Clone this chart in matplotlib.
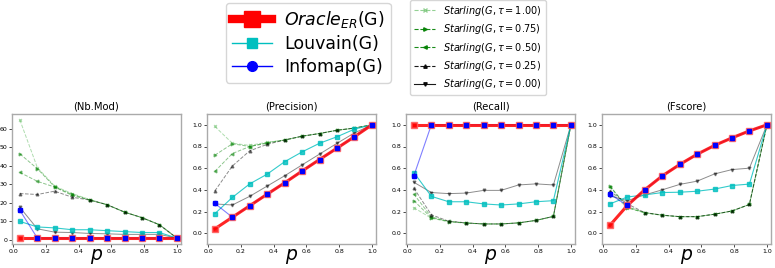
import numpy as np
import matplotlib
matplotlib.use("Agg")
import matplotlib.pyplot as plt
from matplotlib.lines import Line2D

p = [0.04, 0.147, 0.253, 0.36, 0.467, 0.573, 0.68, 0.787, 0.893, 1.0]
p_ticks = [0.0, 0.2, 0.4, 0.6, 0.8, 1.0]

titles = ["(Nb.Mod)", "(Precision)", "(Recall)", "(Fscore)"]

# Nb.Mod
nb_oracle = [1, 1, 1, 1, 1, 1, 1, 1, 1, 1]
nb_louvain = [10, 7, 6.5, 5.5, 5.5, 5, 4.5, 4, 4, 1]
nb_infomap = [16, 1, 1, 1, 1, 1, 1, 1, 1, 1]
nb_s100 = [64.7, 39, 29, 25, 21.8, 19, 15, 12, 8.2, 1]
nb_s075 = [46.4, 38.4, 28.6, 24.5, 21.6, 19, 15, 12, 8.2, 1]
nb_s050 = [36.4, 31.6, 28.5, 24, 21.5, 19, 15, 12, 8.2, 1]
nb_s025 = [25, 24.5, 26.3, 23, 21.5, 19, 15, 12, 8.2, 1]
nb_s000 = [17.6, 6, 4.2, 4, 3.5, 3.3, 3, 3, 3, 1]

# Precision
pr_oracle = [0.04, 0.147, 0.253, 0.36, 0.465, 0.573, 0.68, 0.785, 0.89, 1.0]
pr_louvain = [0.18, 0.33, 0.455, 0.545, 0.66, 0.75, 0.83, 0.89, 0.96, 1.0]
pr_infomap = [0.275, 0.147, 0.253, 0.36, 0.465, 0.573, 0.68, 0.785, 0.89, 1.0]
pr_s100 = [0.985, 0.83, 0.81, 0.84, 0.86, 0.895, 0.92, 0.95, 0.97, 1.0]
pr_s075 = [0.72, 0.825, 0.80, 0.835, 0.86, 0.895, 0.92, 0.95, 0.97, 1.0]
pr_s050 = [0.57, 0.735, 0.80, 0.83, 0.86, 0.895, 0.92, 0.95, 0.97, 1.0]
pr_s025 = [0.39, 0.62, 0.76, 0.82, 0.86, 0.895, 0.92, 0.95, 0.97, 1.0]
pr_s000 = [0.27, 0.26, 0.34, 0.435, 0.53, 0.63, 0.73, 0.83, 0.925, 1.0]

# Recall
re_oracle = [1.0, 1.0, 1.0, 1.0, 1.0, 1.0, 1.0, 1.0, 1.0, 1.0]
re_louvain = [0.56, 0.34, 0.29, 0.29, 0.27, 0.26, 0.27, 0.29, 0.30, 1.0]
re_infomap = [0.53, 1.0, 1.0, 1.0, 1.0, 1.0, 1.0, 1.0, 1.0, 1.0]
re_s100 = [0.235, 0.138, 0.105, 0.092, 0.085, 0.085, 0.095, 0.118, 0.155, 1.0]
re_s075 = [0.30, 0.142, 0.107, 0.093, 0.085, 0.085, 0.095, 0.118, 0.155, 1.0]
re_s050 = [0.36, 0.15, 0.11, 0.095, 0.085, 0.085, 0.095, 0.118, 0.155, 1.0]
re_s025 = [0.415, 0.17, 0.11, 0.095, 0.085, 0.085, 0.095, 0.118, 0.155, 1.0]
re_s000 = [0.47, 0.375, 0.365, 0.37, 0.395, 0.395, 0.445, 0.455, 0.445, 1.0]

# Fscore
fs_oracle = [0.072, 0.256, 0.40, 0.528, 0.634, 0.728, 0.81, 0.88, 0.944, 1.0]
fs_louvain = [0.27, 0.334, 0.353, 0.375, 0.378, 0.387, 0.407, 0.44, 0.453, 1.0]
fs_infomap = [0.36, 0.256, 0.40, 0.528, 0.634, 0.728, 0.81, 0.88, 0.944, 1.0]
fs_s100 = [0.38, 0.235, 0.188, 0.165, 0.152, 0.152, 0.175, 0.205, 0.265, 1.0]
fs_s075 = [0.437, 0.235, 0.188, 0.165, 0.152, 0.152, 0.175, 0.205, 0.265, 1.0]
fs_s050 = [0.43, 0.245, 0.19, 0.166, 0.152, 0.152, 0.175, 0.205, 0.265, 1.0]
fs_s025 = [0.39, 0.27, 0.19, 0.167, 0.153, 0.153, 0.175, 0.205, 0.265, 1.0]
fs_s000 = [0.344, 0.30, 0.353, 0.40, 0.45, 0.48, 0.547, 0.587, 0.60, 1.0]

panels = [
    (nb_oracle, nb_louvain, nb_infomap, [nb_s100, nb_s075, nb_s050, nb_s025, nb_s000]),
    (pr_oracle, pr_louvain, pr_infomap, [pr_s100, pr_s075, pr_s050, pr_s025, pr_s000]),
    (re_oracle, re_louvain, re_infomap, [re_s100, re_s075, re_s050, re_s025, re_s000]),
    (fs_oracle, fs_louvain, fs_infomap, [fs_s100, fs_s075, fs_s050, fs_s025, fs_s000]),
]

tau_labels = ["1.00", "0.75", "0.50", "0.25", "0.00"]
star_styles = [
    dict(color="#4db34d", ls="--", marker="x"),
    dict(color="green", ls="--", marker=">"),
    dict(color="green", ls="--", marker="<"),
    dict(color="black", ls="--", marker="^"),
    dict(color="black", ls="-", marker="v"),
]

W, H = 775, 268
fig = plt.figure(figsize=(W / 100, H / 100), dpi=100)

lefts = [12, 207, 406, 602]
ax_w = 169
ax_top, ax_bot = 114, 244

for i, (orc, lou, inf, stars) in enumerate(panels):
    ax = fig.add_axes([lefts[i] / W, 1 - ax_bot / H, ax_w / W, (ax_bot - ax_top) / H])
    for s, st in zip(stars, star_styles):
        ax.plot(p, s, color=st["color"], ls=st["ls"], marker=st["marker"],
                lw=0.7, ms=2, alpha=0.45, mec=st["color"])
    ax.plot(p, lou, color="c", marker="s", lw=0.8, ms=3.5, alpha=0.8)
    ax.plot(p, inf, color="blue", marker="o", lw=0.8, ms=3, alpha=0.5)
    ax.plot(p, orc, color="red", marker="s", lw=2.2, ms=5, alpha=0.85,
            mec="#ff6060", mew=1.0, zorder=3)
    ax.plot(p, inf, color="blue", marker="s", lw=0, ms=2.4, zorder=4)
    ax.set_title(titles[i], fontsize=7.2, pad=3)
    ax.set_xticks(p_ticks)
    ax.tick_params(labelsize=4.5, length=2, width=0.5, pad=1.5)
    ax.set_xlabel("$p$", fontsize=13.5, labelpad=-5)
    if i == 0:
        ax.set_yticks([0, 10, 20, 30, 40, 50, 60])
    else:
        ax.set_ylim(-0.1, 1.1)
        ax.set_yticks([0.0, 0.2, 0.4, 0.6, 0.8, 1.0])
    ax.set_xlim(-0.008, 1.025)
    for sp in ax.spines.values():
        sp.set_color("#aaaaaa")
        sp.set_linewidth(1.0)

# Legend 1
h1 = [
    Line2D([], [], color="red", lw=6, marker="s", ms=11),
    Line2D([], [], color="c", lw=1, marker="s", ms=7),
    Line2D([], [], color="blue", lw=1, marker="o", ms=7),
]
l1 = ["$Oracle_{ER}$(G)", "Louvain(G)", "Infomap(G)"]
leg1 = fig.legend(h1, l1, loc="upper left", bbox_to_anchor=(226 / W, 1 - 3 / H),
                  fontsize=12.5, frameon=True, handlelength=2.3, borderpad=0.35,
                  labelspacing=0.3, handletextpad=0.7, borderaxespad=0, fancybox=True)
leg1.get_frame().set_edgecolor("#cccccc")

# Legend 2
h2 = []
l2 = []
for t, st in zip(tau_labels, star_styles):
    h2.append(Line2D([], [], color=st["color"], ls=st["ls"], marker=st["marker"],
                     lw=0.8, ms=2.5, alpha=0.6 if t == "1.00" else 0.9))
    l2.append("$Starling(G, \\tau = %s)$" % t)
leg2 = fig.legend(h2, l2, loc="upper left", bbox_to_anchor=(410 / W, 1 - 0 / H),
                  fontsize=7, frameon=True, handlelength=2.2, borderpad=0.4,
                  labelspacing=0.45, handletextpad=0.8, borderaxespad=0)
leg2.get_frame().set_edgecolor("#cccccc")

fig.savefig("out.png", dpi=100)
